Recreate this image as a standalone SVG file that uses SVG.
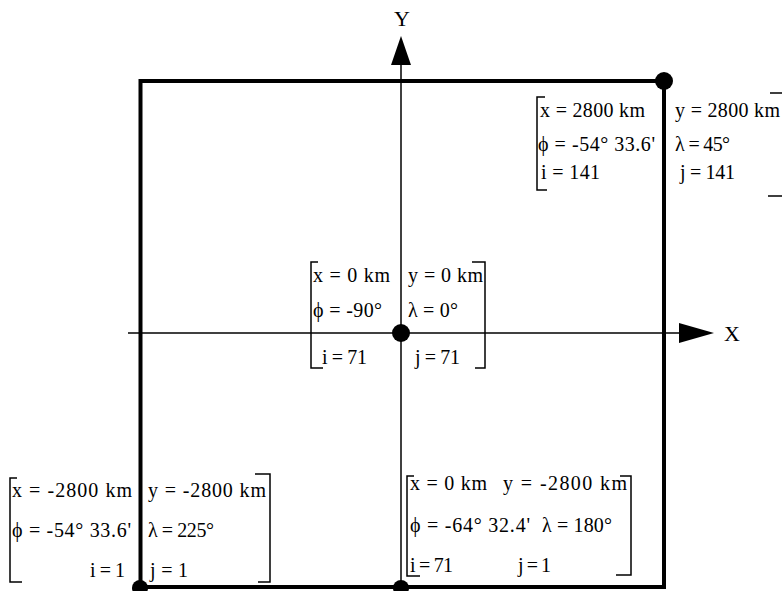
<svg xmlns="http://www.w3.org/2000/svg" width="782" height="591" viewBox="0 0 782 591">
<style>
.t{font-family:"Liberation Serif","Times New Roman",serif;font-size:20px;fill:#000}
.ax{font-family:"Liberation Serif","Times New Roman",serif;font-size:22px;fill:#000}
.br{fill:none;stroke:#000;stroke-width:1.5}
.axis{stroke:#000;stroke-width:1.5;fill:none}
.dot{fill:#000}
</style>
<rect width="782" height="591" fill="#fff"/>
<g id="connectors">
<line class="axis" x1="401" y1="62" x2="401" y2="588"/>
<polygon points="401,36 391,65 411,65" fill="#000"/>
<line class="axis" x1="128" y1="333" x2="682" y2="333"/>
<polygon points="714,333 679,323 679,343" fill="#000"/>
</g>
<g id="labels-axes">
<text class="ax" x="402" y="26" text-anchor="middle">Y</text>
<text class="ax" x="732" y="341" text-anchor="middle">X</text>
</g>
<g id="square">
<rect x="140.5" y="81" width="523.5" height="506" fill="none" stroke="#000" stroke-width="4"/>
</g>
<g id="dots">
<circle class="dot" cx="664" cy="81" r="9"/>
<circle class="dot" cx="401" cy="333" r="9"/>
<circle class="dot" cx="140" cy="588" r="8"/>
<circle class="dot" cx="401" cy="588" r="8"/>
</g>
<g id="node-top-right">
<path class="br" d="M545,97 H537 V190 H547"/>
<path class="br" d="M770,93 H782 M768,196 H782"/>
<text class="t" x="540" y="117" textLength="105" lengthAdjust="spacing">x = 2800 km</text>
<text class="t" x="538" y="151" textLength="117" lengthAdjust="spacing">ϕ = -54° 33.6'</text>
<text class="t" x="541" y="179" textLength="59" lengthAdjust="spacing">i = 141</text>
<text class="t" x="675" y="117" textLength="105" lengthAdjust="spacing">y = 2800 km</text>
<text class="t" x="675" y="151" textLength="55" lengthAdjust="spacing">λ = 45°</text>
<text class="t" x="680" y="179" textLength="55" lengthAdjust="spacing">j = 141</text>
</g>
<g id="node-center">
<path class="br" d="M318,262 H311 V368 H323"/>
<path class="br" d="M472,262 H485 V368 H475"/>
<text class="t" x="313" y="282" textLength="77" lengthAdjust="spacing">x = 0 km</text>
<text class="t" x="313" y="317" textLength="69" lengthAdjust="spacing">ϕ = -90°</text>
<text class="t" x="322" y="364" textLength="45" lengthAdjust="spacing">i = 71</text>
<text class="t" x="408" y="282" textLength="75" lengthAdjust="spacing">y = 0 km</text>
<text class="t" x="408" y="317" textLength="50" lengthAdjust="spacing">λ = 0°</text>
<text class="t" x="415" y="364" textLength="45" lengthAdjust="spacing">j = 71</text>
</g>
<g id="node-bottom-left">
<path class="br" d="M17,478 H10 V582 H22"/>
<path class="br" d="M255,474 H270 V582 H258"/>
<text class="t" x="12" y="497" textLength="120" lengthAdjust="spacing">x = -2800 km</text>
<text class="t" x="12" y="537" textLength="119" lengthAdjust="spacing">ϕ = -54° 33.6'</text>
<text class="t" x="90" y="577" textLength="35" lengthAdjust="spacing">i = 1</text>
<text class="t" x="148" y="497" textLength="118" lengthAdjust="spacing">y = -2800 km</text>
<text class="t" x="148" y="537" textLength="66" lengthAdjust="spacing">λ = 225°</text>
<text class="t" x="150" y="577" textLength="38" lengthAdjust="spacing">j = 1</text>
</g>
<g id="node-bottom-middle">
<path class="br" d="M414,476 H407 V576 H420"/>
<path class="br" d="M620,476 H631 V575 H616"/>
<text class="t" x="410" y="490" textLength="77" lengthAdjust="spacing">x = 0 km</text>
<text class="t" x="503" y="490" textLength="124" lengthAdjust="spacing">y = -2800 km</text>
<text class="t" x="410" y="532" textLength="120" lengthAdjust="spacing">ϕ = -64° 32.4'</text>
<text class="t" x="542" y="532" textLength="70" lengthAdjust="spacing">λ = 180°</text>
<text class="t" x="410" y="572" textLength="43" lengthAdjust="spacing">i = 71</text>
<text class="t" x="518" y="572" textLength="33" lengthAdjust="spacing">j = 1</text>
</g>
</svg>
